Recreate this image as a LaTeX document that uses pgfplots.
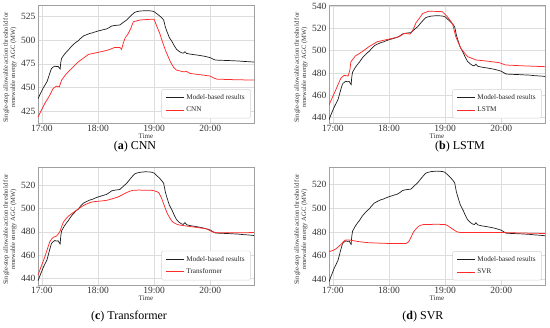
\documentclass[border=0pt]{standalone}
\usepackage{fontspec}
\setmainfont{Liberation Serif}
\usepackage{pgfplots}
\pgfplotsset{compat=1.18}

\definecolor{gridc}{HTML}{DDDDDD}
\definecolor{framec}{HTML}{A0A0A0}
\definecolor{myred}{HTML}{FF2A2A}
\definecolor{myblack}{HTML}{1E1E1E}

\tikzset{subcap/.style={font=\fontsize{12}{13}\selectfont, inner sep=0pt}}

\pgfplotsset{
  panel/.style={
    scale only axis, width=216pt, height=118pt,
    anchor=south west,
    xmin=-0.07, xmax=3.78,
    xtick={0,1,2,3}, xticklabels={17:00,18:00,19:00,20:00},
    major tick length=0pt,
    grid=major, grid style={gridc, line width=0.5pt},
    axis line style={framec, line width=0.6pt},
    /pgf/number format/assume math mode=true,
    ticklabel style={font=\fontsize{9.5}{10}\selectfont, text=black!80},
    xticklabel style={yshift=1pt},
    yticklabel style={xshift=1pt},
    xlabel={Time},
    xlabel style={font=\fontsize{7}{8}\selectfont, at={(axis description cs:0.5,-0.108)}, anchor=center, text=black!80, inner sep=0pt},
    ylabel={Single-step allowable action threshold for\\renewable energy AGC (MW)},
    ylabel style={font=\fontsize{6.6}{7.4}\selectfont, align=center, at={(axis description cs:-0.13,0.47)}, anchor=center, text=black!80},
    legend style={at={(0.985,0.04)}, anchor=south east, font=\fontsize{7.2}{8}\selectfont,
      draw=gray!35, rounded corners=1.5pt, inner xsep=4pt, inner ysep=3pt, row sep=2pt, text=black!85},
    legend cell align=left,
    legend image code/.code={\draw[#1] (0pt,0pt) -- (18pt,0pt);},
  },
  blk/.style={myblack, line width=0.7pt},
  rd/.style={myred, line width=0.75pt},
}

\pgfplotstableread{
h v
-0.07 438
-0.03 443
0.02 449
0.06 453
0.09 456
0.11 459.5
0.14 465
0.17 470
0.20 471.5
0.23 472.5
0.26 472
0.29 472.3
0.31 470.5
0.325 469.5
0.335 476
0.35 480.7
0.40 485
0.44 487.8
0.47 489.5
0.49 491
0.53 493.8
0.58 496.5
0.62 498.4
0.65 499.5
0.68 501.5
0.74 504.5
0.80 506
0.86 507.3
0.90 507.8
0.93 508.5
1.00 509.8
1.05 510.5
1.08 511
1.15 512
1.20 513.5
1.24 515
1.28 515.5
1.32 515.8
1.39 516.2
1.45 519
1.51 521.5
1.56 524.5
1.60 526.8
1.65 529.5
1.69 530.3
1.75 531
1.80 531.2
1.84 531.4
1.90 531.3
1.96 531
2.00 530.3
2.05 528
2.10 525.7
2.14 523.5
2.17 521.5
2.20 514
2.23 509
2.27 503
2.32 498.4
2.36 494
2.40 490.3
2.45 488
2.49 486.7
2.52 486.3
2.55 487.8
2.58 486
2.64 485.3
2.70 484.8
2.80 484
2.88 483.2
2.94 482.4
3.00 481.5
3.05 480
3.09 479
3.15 478.8
3.25 478.6
3.35 478.4
3.42 478.2
3.50 478
3.60 477.5
3.70 477.2
3.78 476.8
}\modeldata

\pgfplotstableread{
h v
-0.07 418.6
0.05 432.8
0.14 441.7
0.20 448.8
0.26 451.3
0.31 450.5
0.35 457.6
0.44 464.8
0.53 470.1
0.65 477.1
0.75 481.5
0.83 485
1.00 487.1
1.18 489.6
1.30 492.4
1.39 492.4
1.42 490.3
1.45 497
1.48 502
1.54 507.3
1.58 512
1.63 519.7
1.75 521.5
1.93 522.2
2.00 522.2
2.05 514.4
2.10 507.3
2.15 498
2.20 489.6
2.29 477
2.35 471
2.40 468.3
2.52 466.5
2.58 466.8
2.64 464.8
3.00 462
3.06 460
3.12 458.7
3.40 458.2
3.78 457.7
}\cnndata

\pgfplotstableread{
h v
-0.07 451.2
0.05 464.7
0.14 475.2
0.20 477.8
0.27 477.2
0.30 482
0.32 490
0.40 495.2
0.52 499
0.64 503.5
0.79 508
1.00 510.4
1.18 512.5
1.27 515.5
1.38 514.9
1.43 519
1.48 525
1.54 529
1.60 533.4
1.71 535.5
1.95 535
2.04 530.4
2.13 524.5
2.19 512.5
2.28 502
2.40 494.6
2.55 491.6
2.73 490.7
2.96 489.2
3.08 487.1
3.40 486.3
3.78 485.6
}\lstmdata

\pgfplotstableread{
h v
-0.07 443
0.05 458.3
0.14 471.4
0.20 475.2
0.26 476.3
0.32 480.2
0.38 488
0.47 493.3
0.59 497.6
0.74 502.5
0.89 505.5
1.15 506.9
1.36 509.9
1.51 513.6
1.63 515.6
1.93 515.6
2.00 515.1
2.08 513.6
2.14 507.8
2.23 496.2
2.32 488.9
2.43 486
2.64 484.5
2.94 482.4
3.09 479.3
3.78 479.3
}\trfdata

\pgfplotstableread{
h v
-0.07 463.3
0.04 465.3
0.13 468.9
0.22 473.1
0.30 473.1
0.48 471.7
0.65 470.9
1.00 470.3
1.30 470.3
1.36 472.6
1.44 480.2
1.53 484.9
1.62 486.3
2.00 486.3
2.09 483.8
2.18 481
2.26 479.6
2.82 479.6
3.00 479.5
3.78 478.7
}\svrdata

\begin{document}
\begin{tikzpicture}
\useasboundingbox (0,0) rectangle (550pt,328pt);

\begin{axis}[panel, at={(38pt,205pt)}, ymin=412.2, ymax=537.4, ytick={425,450,475,500,525}]
\addplot[blk] table[x=h,y=v] {\modeldata};
\addlegendentry{Model-based results}
\addplot[rd] table[x=h,y=v] {\cnndata};
\addlegendentry{CNN}
\end{axis}

\begin{axis}[panel, at={(329pt,205pt)}, ymin=435, ymax=541, ytick={440,460,480,500,520,540}]
\addplot[blk] table[x=h,y=v] {\modeldata};
\addlegendentry{Model-based results}
\addplot[rd] table[x=h,y=v] {\lstmdata};
\addlegendentry{LSTM}
\end{axis}

\begin{axis}[panel, at={(38pt,43pt)}, ymin=434.4, ymax=535.5, ytick={440,460,480,500,520}]
\addplot[blk] table[x=h,y=v] {\modeldata};
\addlegendentry{Model-based results}
\addplot[rd, smooth, tension=0.3] table[x=h,y=v] {\trfdata};
\addlegendentry{Transformer}
\end{axis}

\begin{axis}[panel, at={(329pt,43pt)}, ymin=435.2, ymax=534.9, ytick={440,460,480,500,520}]
\addplot[blk] table[x=h,y=v] {\modeldata};
\addlegendentry{Model-based results}
\addplot[rd, smooth, tension=0.3] table[x=h,y=v] {\svrdata};
\addlegendentry{SVR}
\end{axis}

\node[subcap] at (135pt,181pt) {({\bfseries a}) CNN};
\node[subcap] at (460pt,181pt) {({\bfseries b}) LSTM};
\node[subcap] at (129pt,11.5pt) {({\bfseries c}) Transformer};
\node[subcap] at (423pt,11.5pt) {({\bfseries d}) SVR};
\end{tikzpicture}
\end{document}
